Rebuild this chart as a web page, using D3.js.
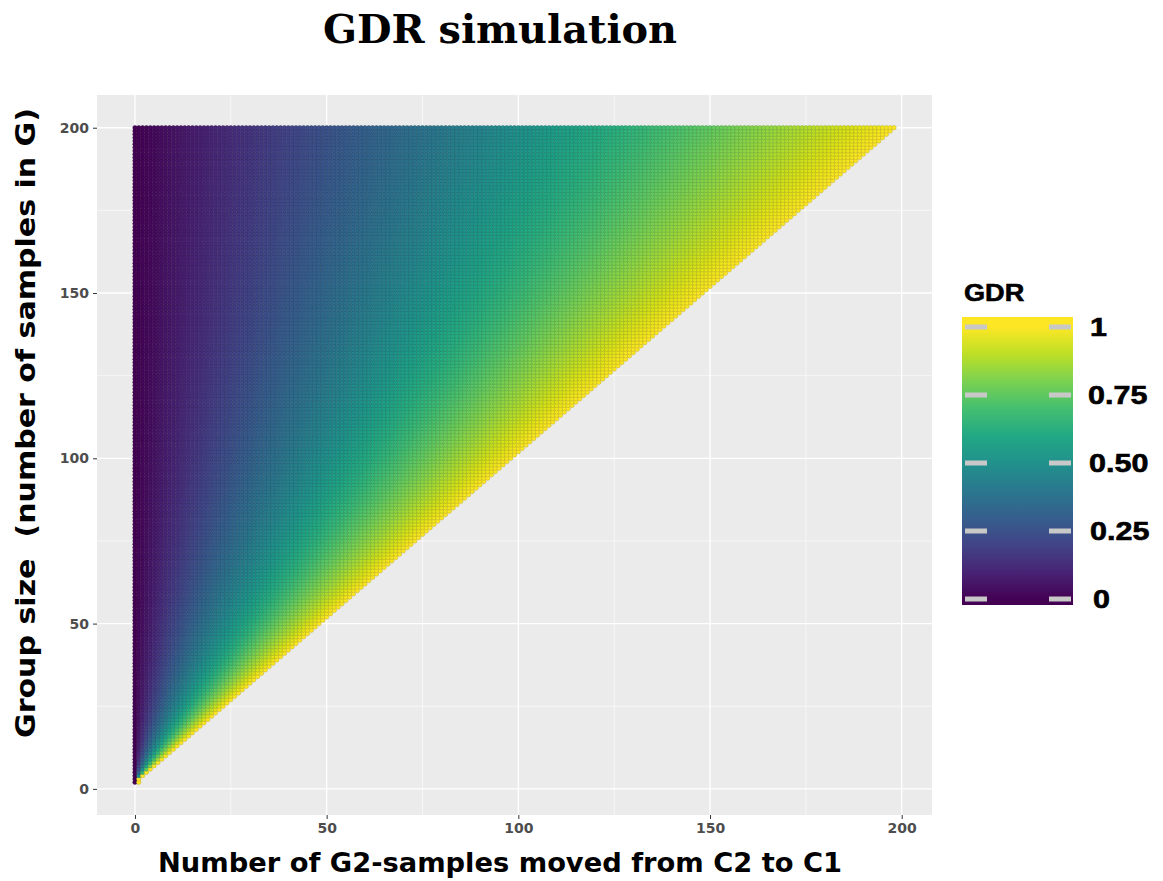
<!DOCTYPE html>
<html>
<head>
<meta charset="utf-8">
<script src="https://cdn.jsdelivr.net/npm/d3@7"></script>
<style>
  body { margin: 0; background: #fff; }
  svg text { font-family: "DejaVu Sans", sans-serif; }
</style>
</head>
<body>
<div id="chart"></div>
<script>
var width = 1163, height = 881;

// simulation grid: group sizes and how many G2-samples get moved
var groupSizes = d3.range(2, 201);          // 2 .. 200
var xTicks = [0, 50, 100, 150, 200];
var yTicks = [0, 50, 100, 150, 200];
var legendTicks = [0, 0.25, 0.5, 0.75, 1];
var legendLabels = ["0", "0.25", "0.50", "0.75", "1"];

var points = [];
groupSizes.forEach(function(g) {
  var maxMoved = g - 2;
  for (var m = 0; m <= Math.max(maxMoved, 1); m++) {
    points.push({ moved: m, size: g, gdr: maxMoved > 0 ? m / maxMoved : m });
  }
});

var svg = d3.select("#chart").append("svg")
  .attr("width", width)
  .attr("height", height);

var panel = { left: 97, right: 932, top: 95, bottom: 815 };

var xScale = d3.scaleLinear().domain([-9.9, 207.9]).range([panel.left, panel.right]);
var yScale = d3.scaleLinear().domain([-7.9, 209.9]).range([panel.bottom, panel.top]);
var color = d3.scaleSequential(d3.interpolateViridis).domain([0, 1]);

// panel background
svg.append("rect")
  .attr("x", panel.left).attr("y", panel.top)
  .attr("width", panel.right - panel.left)
  .attr("height", panel.bottom - panel.top)
  .attr("fill", "#ebebeb");

// minor grid
var minor = [25, 75, 125, 175];
svg.selectAll(".vminor").data(minor).enter().append("line")
  .attr("x1", d => xScale(d)).attr("x2", d => xScale(d))
  .attr("y1", panel.top).attr("y2", panel.bottom)
  .attr("stroke", "#fff").attr("stroke-width", 0.6);
svg.selectAll(".hminor").data(minor).enter().append("line")
  .attr("y1", d => yScale(d)).attr("y2", d => yScale(d))
  .attr("x1", panel.left).attr("x2", panel.right)
  .attr("stroke", "#fff").attr("stroke-width", 0.6);

// major grid
svg.selectAll(".vmajor").data(xTicks).enter().append("line")
  .attr("x1", d => xScale(d)).attr("x2", d => xScale(d))
  .attr("y1", panel.top).attr("y2", panel.bottom)
  .attr("stroke", "#fff").attr("stroke-width", 1.3);
svg.selectAll(".hmajor").data(yTicks).enter().append("line")
  .attr("y1", d => yScale(d)).attr("y2", d => yScale(d))
  .attr("x1", panel.left).attr("x2", panel.right)
  .attr("stroke", "#fff").attr("stroke-width", 1.3);

// points
svg.append("g").selectAll("circle").data(points).enter().append("circle")
  .attr("cx", d => xScale(d.moved))
  .attr("cy", d => yScale(d.size))
  .attr("r", 2.2)
  .attr("fill", d => color(d.gdr))
  .attr("stroke", d => d3.color(color(d.gdr)).darker(0.9))
  .attr("stroke-width", 0.45);

// axes
var xAxis = svg.append("g")
  .attr("transform", "translate(0," + panel.bottom + ")")
  .call(d3.axisBottom(xScale).tickValues(xTicks).tickSize(4).tickPadding(4));
var yAxis = svg.append("g")
  .attr("transform", "translate(" + panel.left + ",0)")
  .call(d3.axisLeft(yScale).tickValues(yTicks).tickSize(4).tickPadding(4));
[xAxis, yAxis].forEach(function(ax) {
  ax.select(".domain").remove();
  ax.selectAll(".tick line").attr("stroke", "#333");
  ax.selectAll(".tick text")
    .attr("fill", "#4d4d4d")
    .style("font-size", "14px")
    .style("font-weight", "bold")
    .style("font-family", "'DejaVu Sans', sans-serif");
});

// titles
svg.append("text")
  .attr("x", 500).attr("y", 43)
  .attr("text-anchor", "middle")
  .attr("textLength", 354)
  .attr("lengthAdjust", "spacingAndGlyphs")
  .style("font-family", "'DejaVu Serif', serif")
  .style("font-weight", "bold")
  .style("font-size", "40px")
  .text("GDR simulation");

svg.append("text")
  .attr("x", 500).attr("y", 872)
  .attr("text-anchor", "middle")
  .attr("textLength", 684)
  .attr("lengthAdjust", "spacingAndGlyphs")
  .style("font-weight", "bold")
  .style("font-size", "26px")
  .text("Number of G2-samples moved from C2 to C1");

svg.append("text")
  .attr("transform", "translate(35,423) rotate(-90)")
  .attr("text-anchor", "middle")
  .attr("textLength", 630)
  .attr("lengthAdjust", "spacingAndGlyphs")
  .style("font-weight", "bold")
  .style("font-size", "26px")
  .style("white-space", "pre")
  .text("Group size  (number of samples in G)");

// legend colourbar
var legend = { x: 962, w: 111, top: 317, bottom: 605 };
var lScale = d3.scaleLinear().domain([0, 1]).range([599, 327]);
var labelX = [1093, 1090, 1089, 1088, 1090];

var defs = svg.append("defs");
var grad = defs.append("linearGradient")
  .attr("id", "gdrGrad")
  .attr("x1", 0).attr("y1", 1).attr("x2", 0).attr("y2", 0);
d3.range(0, 1.0001, 0.1).forEach(function(t) {
  grad.append("stop").attr("offset", t).attr("stop-color", color(t));
});
svg.append("rect")
  .attr("x", legend.x).attr("y", legend.top)
  .attr("width", legend.w).attr("height", lScale(1) - legend.top)
  .attr("fill", color(1));
svg.append("rect")
  .attr("x", legend.x).attr("y", lScale(0))
  .attr("width", legend.w).attr("height", legend.bottom - lScale(0))
  .attr("fill", color(0));
svg.append("rect")
  .attr("x", legend.x).attr("y", lScale(1))
  .attr("width", legend.w).attr("height", lScale(0) - lScale(1))
  .attr("fill", "url(#gdrGrad)");

legendTicks.forEach(function(t, i) {
  svg.append("rect")
    .attr("x", legend.x + 3).attr("y", lScale(t) - 2.5)
    .attr("width", 22).attr("height", 5)
    .attr("fill", "#c8c8c8");
  svg.append("rect")
    .attr("x", legend.x + legend.w - 24).attr("y", lScale(t) - 2.5)
    .attr("width", 22).attr("height", 5)
    .attr("fill", "#c8c8c8");
  svg.append("text")
    .attr("transform", "translate(" + labelX[i] + "," + (lScale(t) + 9) + ") scale(1.22,1)")
    .style("font-family", "'Liberation Sans', Arial, sans-serif")
    .style("font-weight", "bold")
    .style("font-size", "25px")
    .attr("stroke", "#000").attr("stroke-width", 0.6)
    .text(legendLabels[i]);
});

svg.append("text")
  .attr("transform", "translate(964,301) scale(1.13,1)")
  .style("font-family", "'Liberation Sans', Arial, sans-serif")
  .style("font-weight", "bold")
  .style("font-size", "24px")
  .attr("stroke", "#000").attr("stroke-width", 0.6)
  .text("GDR");
</script>
</body>
</html>
